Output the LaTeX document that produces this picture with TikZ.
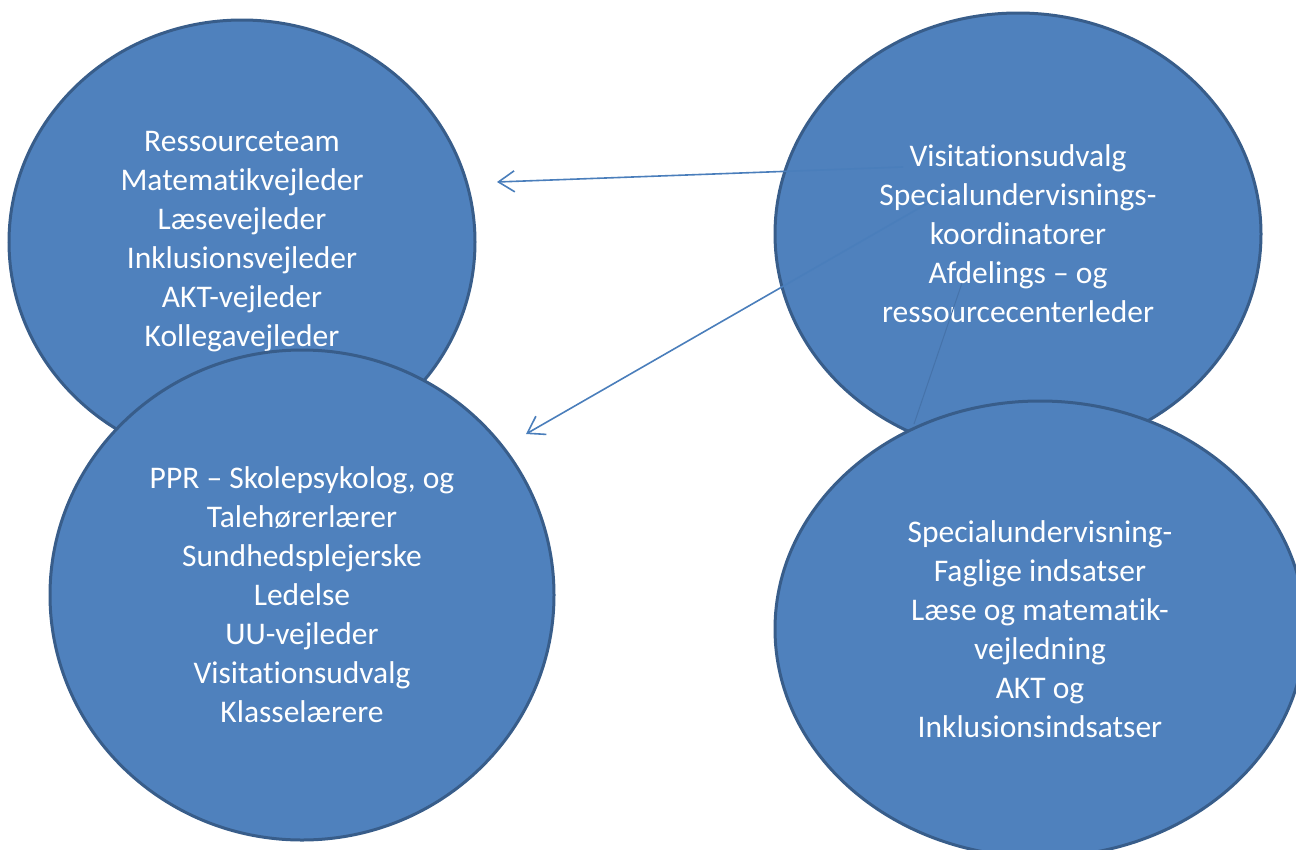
\documentclass[tikz,border=0pt]{standalone}
\usepackage{fontspec}
\setmainfont{Carlito}[Ligatures={NoCommon,NoContextual,NoRare}]
\usetikzlibrary{shapes.geometric,arrows.meta}
\newcommand{\brk}{\kern0pt{}}
\definecolor{blobfill}{HTML}{4F81BD}
\definecolor{blobedge}{HTML}{385D8A}
\definecolor{arrowcol}{HTML}{4A7EBB}
\definecolor{faintline}{HTML}{4673AA}
\tikzset{
  blob/.style={ellipse, draw=blobedge, line width=3pt, fill=blobfill, text=white,
    align=center, inner sep=0pt, font=\fontsize{31.5}{39}\selectfont},
  conn/.style={draw=arrowcol, line width=1.6pt, -{Straight Barb[length=16pt,width=21pt,line width=1.6pt]}},
}
\begin{document}
\begin{tikzpicture}[x=1pt,y=-1pt]
\useasboundingbox (0,0) rectangle (1296,849);
\clip (0,0) rectangle (1296,849);
\node[blob, minimum width=466pt, minimum height=444pt] (e1) at (242,242)
  {Ressourceteam\\Matemat\brk ikvejleder\\Læsevejleder\\Inklusionsvejleder\\AKT-vejleder\\Kollegavejleder};
\node[blob, minimum width=486pt, minimum height=442pt] (e2) at (1018,234)
  {Visitat\brk ionsudvalg\\Specialundervisnings-\\koordinatorer\\Afdelings – og\\ressourcecenterleder};
\coordinate (a1s) at (903,167);
\coordinate (a1e) at (497,182);
\coordinate (a2s) at (928,203);
\coordinate (a2e) at (526,434);
\coordinate (l3s) at (962,283);
\coordinate (l3e) at (914,424);
\draw[conn] (a1s) -- (a1e);
\draw[conn] (a2s) -- (a2e);
\draw[faintline, line width=1pt] (l3s) -- (l3e);
\node[blob, minimum width=504pt, minimum height=490pt] (e3) at (302,595)
  {PPR – Skolepsykolog, og\\Talehørerlærer\\Sundhedsplejerske\\Ledelse\\UU-vejleder\\Visitat\brk ionsudvalg\\Klasselærere};
\node[blob, minimum width=530pt, minimum height=456pt] (e4) at (1040,629)
  {Specialundervisning-\\Faglige indsatser\\Læse og matemat\brk ik-\\vejledning\\AKT og\\Inklusionsindsatser};
\end{tikzpicture}
\end{document}
